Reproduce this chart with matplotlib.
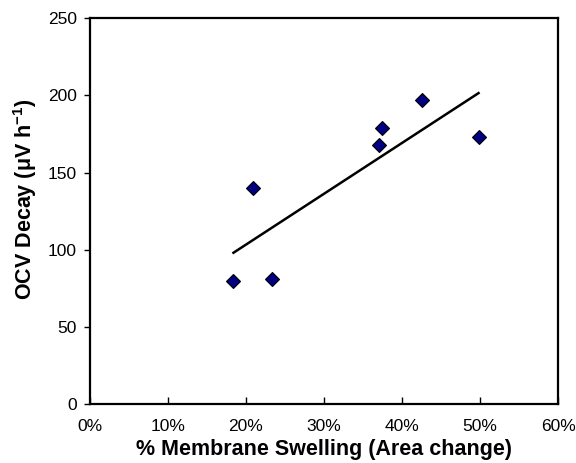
import numpy as np
import matplotlib
matplotlib.use("Agg")
import matplotlib.pyplot as plt
from matplotlib.ticker import PercentFormatter

plt.rcParams['font.family'] = ['Liberation Sans', 'DejaVu Sans']
plt.rcParams['mathtext.fontset'] = 'custom'
plt.rcParams['mathtext.rm'] = 'Liberation Sans:bold'
plt.rcParams['mathtext.bf'] = 'Liberation Sans:bold'
plt.rcParams['mathtext.it'] = 'Liberation Sans:bold'

# Data (% swelling, OCV decay in µV/h)
swelling = [18.4, 23.4, 20.9, 37.0, 37.4, 42.5, 49.8]
ocv_decay = [80, 81, 140, 167.5, 179, 197, 173]

x_ticks = [0, 10, 20, 30, 40, 50, 60]
y_ticks = [0, 50, 100, 150, 200, 250]

fig = plt.figure(figsize=(5.76, 4.63), dpi=100)
ax = fig.add_axes([0.156, 0.127, 0.813, 0.834])

ax.plot(swelling, ocv_decay, linestyle='none', marker='D', markersize=7.5,
        markerfacecolor='#000080', markeredgecolor='black', markeredgewidth=0.8, zorder=3)

# Linear trend line
slope, intercept = np.polyfit(swelling, ocv_decay, 1)
xs = np.array([min(swelling), max(swelling)])
ax.plot(xs, slope * xs + intercept, color='black', linewidth=1.8, zorder=2)

ax.set_xlim(0, 60)
ax.set_ylim(0, 250)
ax.set_xticks(x_ticks)
ax.set_yticks(y_ticks)
ax.xaxis.set_major_formatter(PercentFormatter(decimals=0))

for s in ax.spines.values():
    s.set_linewidth(1.6)

ax.tick_params(axis='x', direction='in', length=5, width=1, labelsize=12.5, pad=10.5)
ax.tick_params(axis='y', direction='out', length=4, width=1, labelsize=12.5, pad=5.5)

ax.set_xlabel('% Membrane Swelling (Area change)', fontsize=15.5, fontweight='bold', labelpad=3.5)
ax.set_ylabel(r'OCV Decay (μV h$^{-1}$)', fontsize=15.5, fontweight='bold', labelpad=6.5)
ax.yaxis.label.set_y(0.53)

fig.savefig('out.png', dpi=100)
